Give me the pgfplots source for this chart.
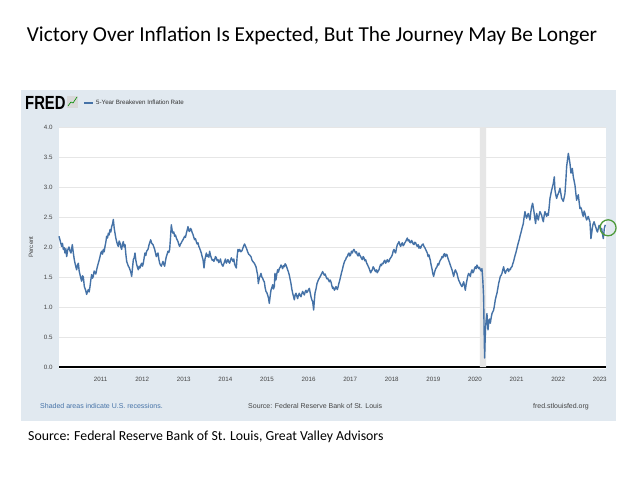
\documentclass[border=0pt]{standalone}
\usepackage{pgfplots}
\pgfplotsset{compat=1.18}
\usepackage{pgfplotstable}
\usepackage{fontspec}
\setmainfont{Liberation Sans}
\newfontfamily\carlito{Carlito}
\definecolor{fredbg}{HTML}{E1E9F0}
\definecolor{fredline}{HTML}{4572A7}
\definecolor{gridc}{HTML}{E6E6E6}
\definecolor{recess}{HTML}{E6E6E6}
\definecolor{txt}{HTML}{444444}
\definecolor{circ}{HTML}{4E9A3A}

\pgfplotstableread{
x y
2010.000 2.18
2010.030 2.10
2010.064 2.01
2010.084 2.06
2010.104 1.96
2010.124 1.99
2010.144 1.90
2010.164 1.97
2010.184 1.84
2010.210 1.95
2010.240 2.00
2010.265 1.93
2010.288 1.90
2010.320 2.04
2010.345 1.90
2010.365 1.80
2010.385 1.73
2010.405 1.67
2010.425 1.62
2010.445 1.70
2010.465 1.73
2010.485 1.60
2010.505 1.54
2010.525 1.48
2010.545 1.43
2010.565 1.52
2010.585 1.50
2010.609 1.34
2010.640 1.28
2010.665 1.21
2010.685 1.26
2010.705 1.29
2010.725 1.25
2010.745 1.34
2010.765 1.45
2010.785 1.54
2010.805 1.48
2010.825 1.51
2010.845 1.60
2010.865 1.57
2010.885 1.55
2010.905 1.62
2010.925 1.68
2010.945 1.73
2010.965 1.78
2010.986 1.84
2011.006 1.90
2011.026 1.93
2011.046 1.88
2011.066 1.96
2011.086 1.92
2011.106 2.01
2011.126 2.08
2011.146 2.18
2011.166 2.15
2011.186 2.23
2011.206 2.20
2011.226 2.29
2011.246 2.25
2011.266 2.34
2011.286 2.38
2011.306 2.46
2011.326 2.32
2011.346 2.23
2011.366 2.15
2011.386 2.09
2011.406 2.04
2011.426 2.01
2011.446 2.10
2011.466 2.07
2011.486 2.00
2011.506 1.96
2011.526 2.05
2011.546 2.09
2011.566 2.00
2011.587 2.04
2011.607 1.88
2011.627 1.76
2011.647 1.72
2011.667 1.68
2011.687 1.66
2011.707 1.62
2011.727 1.58
2011.747 1.51
2011.767 1.65
2011.787 1.79
2011.807 1.82
2011.827 1.90
2011.847 1.78
2011.867 1.71
2011.887 1.66
2011.907 1.62
2011.927 1.68
2011.947 1.65
2011.967 1.70
2011.987 1.73
2012.007 1.68
2012.027 1.73
2012.047 1.82
2012.067 1.90
2012.087 1.86
2012.107 1.93
2012.139 1.96
2012.170 2.05
2012.204 2.12
2012.230 2.06
2012.260 2.04
2012.280 2.00
2012.300 1.96
2012.320 1.90
2012.340 1.84
2012.360 1.88
2012.380 1.90
2012.400 1.80
2012.420 1.73
2012.440 1.70
2012.460 1.68
2012.480 1.72
2012.500 1.76
2012.520 1.71
2012.540 1.68
2012.560 1.77
2012.580 1.84
2012.600 1.88
2012.620 1.93
2012.640 1.91
2012.660 1.96
2012.680 2.15
2012.700 2.37
2012.720 2.28
2012.740 2.23
2012.760 2.25
2012.780 2.18
2012.800 2.20
2012.820 2.15
2012.840 2.12
2012.861 2.09
2012.881 2.04
2012.901 2.01
2012.921 2.05
2012.941 2.07
2012.961 2.10
2012.981 2.12
2013.001 2.15
2013.021 2.18
2013.041 2.16
2013.061 2.23
2013.081 2.28
2013.101 2.34
2013.121 2.27
2013.141 2.26
2013.161 2.31
2013.181 2.29
2013.201 2.24
2013.221 2.21
2013.241 2.16
2013.261 2.12
2013.281 2.14
2013.301 2.09
2013.321 2.05
2013.341 2.07
2013.361 2.01
2013.381 1.98
2013.401 1.94
2013.421 1.90
2013.441 1.84
2013.462 1.79
2013.486 1.65
2013.510 1.80
2013.542 1.90
2013.562 1.84
2013.582 1.87
2013.602 1.83
2013.622 1.93
2013.642 1.86
2013.662 1.82
2013.682 1.78
2013.702 1.79
2013.722 1.76
2013.742 1.79
2013.762 1.84
2013.782 1.82
2013.802 1.77
2013.822 1.79
2013.842 1.74
2013.862 1.76
2013.882 1.80
2013.902 1.73
2013.922 1.70
2013.942 1.68
2013.962 1.72
2013.982 1.76
2014.002 1.80
2014.022 1.73
2014.042 1.76
2014.062 1.79
2014.082 1.75
2014.103 1.73
2014.123 1.78
2014.143 1.82
2014.163 1.79
2014.183 1.76
2014.203 1.80
2014.223 1.71
2014.243 1.68
2014.263 1.65
2014.283 1.85
2014.303 1.96
2014.323 1.93
2014.343 1.96
2014.370 1.92
2014.400 1.94
2014.430 2.00
2014.460 2.05
2014.480 2.02
2014.505 1.98
2014.535 1.92
2014.560 1.88
2014.590 1.86
2014.615 1.84
2014.640 1.78
2014.670 1.75
2014.696 1.73
2014.736 1.67
2014.756 1.60
2014.776 1.53
2014.792 1.39
2014.816 1.48
2014.836 1.52
2014.856 1.56
2014.876 1.50
2014.896 1.48
2014.916 1.44
2014.936 1.42
2014.956 1.32
2014.976 1.26
2014.996 1.24
2015.016 1.20
2015.036 1.15
2015.056 1.06
2015.076 1.18
2015.096 1.28
2015.116 1.32
2015.136 1.37
2015.156 1.30
2015.176 1.34
2015.192 1.56
2015.216 1.45
2015.236 1.55
2015.256 1.62
2015.276 1.58
2015.296 1.64
2015.317 1.66
2015.337 1.70
2015.357 1.67
2015.377 1.64
2015.397 1.69
2015.417 1.67
2015.437 1.72
2015.457 1.70
2015.477 1.66
2015.497 1.62
2015.517 1.58
2015.537 1.53
2015.557 1.46
2015.577 1.39
2015.597 1.30
2015.617 1.23
2015.637 1.18
2015.657 1.12
2015.677 1.20
2015.697 1.23
2015.717 1.18
2015.737 1.14
2015.757 1.20
2015.777 1.23
2015.797 1.19
2015.817 1.17
2015.837 1.22
2015.857 1.26
2015.877 1.23
2015.897 1.20
2015.917 1.25
2015.937 1.28
2015.957 1.24
2015.978 1.26
2015.998 1.29
2016.018 1.31
2016.038 1.24
2016.058 1.17
2016.078 1.12
2016.098 1.09
2016.122 0.95
2016.138 1.10
2016.154 1.23
2016.178 1.30
2016.202 1.39
2016.218 1.42
2016.234 1.45
2016.258 1.48
2016.282 1.51
2016.310 1.55
2016.338 1.59
2016.358 1.56
2016.378 1.53
2016.398 1.55
2016.418 1.51
2016.438 1.47
2016.458 1.48
2016.478 1.45
2016.498 1.42
2016.518 1.45
2016.538 1.42
2016.558 1.36
2016.579 1.31
2016.599 1.33
2016.619 1.28
2016.639 1.30
2016.659 1.34
2016.691 1.29
2016.711 1.34
2016.731 1.40
2016.751 1.45
2016.771 1.51
2016.791 1.57
2016.811 1.62
2016.831 1.68
2016.851 1.73
2016.871 1.77
2016.891 1.79
2016.911 1.83
2016.931 1.84
2016.951 1.88
2016.971 1.90
2016.991 1.85
2017.011 1.87
2017.031 1.93
2017.051 1.90
2017.071 1.94
2017.091 1.96
2017.111 1.93
2017.131 1.90
2017.151 1.92
2017.171 1.87
2017.191 1.85
2017.212 1.90
2017.232 1.86
2017.252 1.84
2017.272 1.81
2017.292 1.79
2017.312 1.84
2017.332 1.82
2017.352 1.77
2017.372 1.79
2017.392 1.74
2017.412 1.71
2017.432 1.68
2017.452 1.65
2017.472 1.61
2017.492 1.57
2017.512 1.60
2017.532 1.62
2017.552 1.67
2017.572 1.65
2017.592 1.61
2017.612 1.59
2017.632 1.62
2017.652 1.57
2017.672 1.60
2017.692 1.62
2017.712 1.67
2017.732 1.71
2017.752 1.69
2017.772 1.73
2017.792 1.72
2017.812 1.76
2017.832 1.78
2017.853 1.73
2017.873 1.76
2017.893 1.79
2017.913 1.75
2017.933 1.76
2017.953 1.80
2017.973 1.82
2017.993 1.84
2018.013 1.87
2018.033 1.93
2018.053 1.96
2018.073 1.92
2018.093 1.90
2018.113 1.98
2018.133 2.04
2018.153 2.06
2018.173 2.09
2018.193 2.04
2018.213 2.01
2018.233 2.05
2018.253 2.07
2018.273 2.02
2018.293 2.04
2018.313 2.07
2018.333 2.09
2018.353 2.12
2018.373 2.15
2018.393 2.10
2018.413 2.12
2018.433 2.08
2018.454 2.07
2018.474 2.11
2018.494 2.09
2018.514 2.05
2018.534 2.04
2018.554 2.08
2018.574 2.07
2018.594 2.03
2018.614 2.01
2018.634 2.04
2018.654 1.98
2018.674 2.01
2018.694 1.98
2018.714 2.02
2018.734 2.04
2018.754 2.05
2018.774 2.01
2018.794 1.99
2018.814 1.96
2018.834 1.93
2018.854 1.90
2018.874 1.84
2018.894 1.87
2018.910 1.82
2018.926 1.78
2018.946 1.70
2018.966 1.64
2018.986 1.56
2019.006 1.51
2019.026 1.57
2019.046 1.62
2019.066 1.65
2019.087 1.67
2019.107 1.72
2019.127 1.70
2019.147 1.75
2019.167 1.78
2019.187 1.80
2019.207 1.84
2019.227 1.82
2019.247 1.87
2019.267 1.89
2019.287 1.84
2019.307 1.88
2019.327 1.87
2019.347 1.82
2019.367 1.78
2019.387 1.74
2019.407 1.70
2019.427 1.66
2019.447 1.62
2019.467 1.57
2019.487 1.51
2019.507 1.57
2019.527 1.62
2019.547 1.59
2019.567 1.56
2019.587 1.50
2019.607 1.45
2019.627 1.42
2019.647 1.39
2019.667 1.36
2019.688 1.34
2019.708 1.38
2019.728 1.42
2019.748 1.35
2019.768 1.28
2019.788 1.38
2019.808 1.45
2019.828 1.52
2019.848 1.56
2019.868 1.54
2019.888 1.51
2019.908 1.58
2019.928 1.62
2019.948 1.57
2019.968 1.59
2019.988 1.64
2020.008 1.67
2020.028 1.64
2020.048 1.70
2020.068 1.67
2020.088 1.64
2020.108 1.66
2020.128 1.62
2020.148 1.60
2020.168 1.64
2020.188 1.45
2020.208 1.17
2020.220 0.60
2020.232 0.15
2020.244 0.45
2020.256 0.67
2020.272 0.80
2020.288 0.89
2020.300 0.75
2020.313 0.62
2020.325 0.70
2020.337 0.78
2020.353 0.80
2020.369 0.73
2020.389 0.82
2020.409 0.89
2020.429 0.92
2020.449 0.95
2020.469 1.03
2020.489 1.12
2020.509 1.18
2020.529 1.23
2020.549 1.31
2020.569 1.39
2020.589 1.45
2020.609 1.51
2020.629 1.53
2020.649 1.56
2020.669 1.62
2020.689 1.67
2020.709 1.60
2020.729 1.56
2020.749 1.60
2020.769 1.62
2020.789 1.64
2020.809 1.59
2020.829 1.63
2020.849 1.62
2020.869 1.66
2020.889 1.67
2020.909 1.72
2020.929 1.76
2020.949 1.82
2020.969 1.87
2020.989 1.92
2021.010 1.98
2021.030 2.04
2021.050 2.09
2021.070 2.14
2021.090 2.20
2021.110 2.25
2021.130 2.31
2021.146 2.35
2021.162 2.39
2021.182 2.50
2021.202 2.59
2021.222 2.52
2021.242 2.48
2021.262 2.53
2021.282 2.56
2021.302 2.50
2021.322 2.45
2021.342 2.58
2021.362 2.67
2021.386 2.73
2021.402 2.66
2021.418 2.59
2021.438 2.48
2021.458 2.39
2021.470 2.48
2021.482 2.56
2021.502 2.50
2021.522 2.45
2021.542 2.53
2021.562 2.59
2021.582 2.56
2021.602 2.53
2021.622 2.47
2021.643 2.42
2021.663 2.52
2021.683 2.59
2021.703 2.55
2021.723 2.51
2021.743 2.56
2021.763 2.53
2021.783 2.66
2021.803 2.81
2021.823 2.88
2021.843 2.95
2021.863 3.00
2021.883 3.06
2021.907 3.17
2021.923 2.95
2021.943 2.87
2021.963 2.81
2021.983 2.86
2022.003 2.89
2022.023 2.93
2022.043 2.98
2022.063 2.90
2022.083 2.81
2022.103 2.79
2022.123 2.76
2022.143 2.82
2022.163 2.89
2022.184 3.10
2022.204 3.34
2022.224 3.45
2022.244 3.56
2022.264 3.48
2022.284 3.39
2022.308 3.23
2022.324 3.27
2022.340 3.31
2022.352 3.24
2022.364 3.17
2022.384 3.10
2022.404 3.03
2022.424 2.90
2022.444 2.78
2022.464 2.83
2022.484 2.87
2022.504 2.75
2022.524 2.64
2022.544 2.66
2022.564 2.62
2022.584 2.55
2022.604 2.51
2022.624 2.60
2022.644 2.56
2022.664 2.50
2022.684 2.45
2022.704 2.48
2022.724 2.51
2022.744 2.46
2022.764 2.42
2022.776 2.28
2022.788 2.14
2022.804 2.22
2022.820 2.31
2022.832 2.36
2022.844 2.39
2022.864 2.42
2022.885 2.37
2022.905 2.33
2022.925 2.28
2022.945 2.25
2022.965 2.31
2022.985 2.36
2023.005 2.34
2023.025 2.28
2023.045 2.31
2023.065 2.22
2023.085 2.14
2023.097 2.22
2023.109 2.31
2023.121 2.34
2023.133 2.37
}\breakeven

\newcommand{\tk}{\fontsize{6.2}{7}\selectfont}
\begin{document}
\begin{tikzpicture}[x=1pt,y=1pt]
\useasboundingbox (0,0) rectangle (640,480);
\fill[white] (0,0) rectangle (640,480);
\fill[fredbg] (21,390) rectangle (616,59);
\fill[white] (59,353) rectangle (606,111);
\node[anchor=base, inner sep=0, font=\carlito\fontsize{21.3}{25}\selectfont] at (312,438) {Victory Over Inflation Is Expected, But The Journey May Be Longer};
\node[anchor=base west, inner sep=0, font=\carlito\fontsize{13.8}{16}\selectfont] at (28,40) {Source: Federal Reserve Bank of St. Louis, Great Valley Advisors};
% FRED header
\node[anchor=base west, inner sep=0, font=\bfseries\fontsize{19}{22}\selectfont] at (25,370) {\scalebox{0.78}[1]{FRED}};
\fill[gray!30] (67,372) rectangle (78,384);
\draw[green!55!black, line width=0.6pt] (68,374) -- (71,378) -- (73,377) -- (77,383);
\draw[fredline, line width=1.5pt] (84,377) -- (93,377);
\node[anchor=base west, inner sep=0, font=\tk, text=black!80] at (96,375) {5-Year Breakeven Inflation Rate};
\node[rotate=90, inner sep=0, font=\tk, text=txt] at (31,233) {Percent};
% footer
\node[anchor=base west, inner sep=0, font=\fontsize{7}{8}\selectfont, text=fredline] at (40,72) {Shaded areas indicate U.S. recessions.};
\node[anchor=base west, inner sep=0, font=\fontsize{7}{8}\selectfont, text=txt] at (248,72) {Source: Federal Reserve Bank of St. Louis};
\node[anchor=base east, inner sep=0, font=\fontsize{7}{8}\selectfont, text=txt] at (589,72) {fred.stlouisfed.org};
\begin{axis}[
  at={(59pt,113pt)}, anchor=south west, scale only axis,
  width=547pt, height=240pt,
  xmin=2010, xmax=2023.15, ymin=0, ymax=4,
  axis x line*=bottom, axis y line*=left,
  x axis line style={black, line width=1.4pt, -},
  y axis line style={draw=none, -},
  xtick={2011,2012,2013,2014,2015,2016,2017,2018,2019,2020,2021,2022,2023},
  xticklabels={2011,2012,2013,2014,2015,2016,2017,2018,2019,2020,2021,2022,2023},
  ytick={0,0.5,1,1.5,2,2.5,3,3.5,4},
  yticklabels={0.0,0.5,1.0,1.5,2.0,2.5,3.0,3.5,4.0},
  major tick length=0pt,
  ymajorgrids, grid style={gridc, line width=0.8pt},
  tick label style={font=\tk, text=txt},
  xticklabel style={yshift=-7pt},
  yticklabel style={xshift=-3pt},
  clip=false,
]
\addplot[fill=recess, draw=none] coordinates {(2020.12,0) (2020.12,4) (2020.27,4) (2020.27,0)} \closedcycle;
\addplot[fredline, line width=1.4pt, line join=round] table[x=x, y=y] {\breakeven};
\draw[circ, line width=1.3pt] (axis cs:2023.2,2.32) circle[radius=8pt];
\end{axis}
\end{tikzpicture}
\end{document}
